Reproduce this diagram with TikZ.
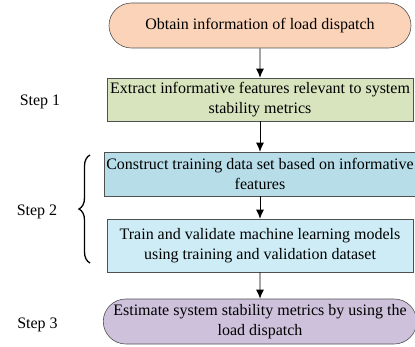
\documentclass[tikz,border=0pt]{standalone}
\usepackage{fontspec}
\setmainfont{Liberation Serif}
\usetikzlibrary{shapes.misc,decorations.pathreplacing,arrows.meta}

\definecolor{peach}{RGB}{250,211,184}
\definecolor{sage}{RGB}{216,228,190}
\definecolor{steel}{RGB}{183,221,232}
\definecolor{skyblue}{RGB}{205,236,246}
\definecolor{lilac}{RGB}{205,193,219}
\definecolor{edge}{RGB}{80,80,80}

\tikzset{
  box/.style={draw=edge, line width=0.6pt, minimum width=306pt, align=center,
    font=\fontsize{16}{20}\selectfont, inner sep=2pt},
  term/.style={box, rounded rectangle},
  steplabel/.style={font=\fontsize{16}{20}\selectfont},
  flow/.style={->, line width=0.9pt, black}
}

\begin{document}
\begin{tikzpicture}[x=1pt, y=1pt, >={Latex[length=9pt,width=8pt]}]
  \useasboundingbox (0,0) rectangle (415,346);
  % Flow boxes
  \node[term, fill=peach, minimum height=45pt] (obtain) at (260,320.5)
    {Obtain information of load dispatch};
  \node[box, fill=sage, minimum height=43pt] (extract) at (260,246.5)
    {Extract informative features relevant to system\\stability metrics};
  \node[box, fill=steel, minimum height=44pt] (construct) at (260,172)
    {Construct training data set based on informative\\features};
  \node[box, fill=skyblue, minimum height=53pt] (train) at (260,100.5)
    {Train and validate machine learning models\\using training and validation dataset};
  \node[term, fill=lilac, minimum height=45pt] (estimate) at (260,24.5)
    {Estimate system stability metrics by using the\\load dispatch};
  % Connectors
  \draw[flow] (obtain) -- (extract);
  \draw[flow] (extract) -- (construct);
  \draw[flow] (construct) -- (train);
  \draw[flow] (train) -- (estimate);
  % Step labels
  \node[steplabel] (step1) at (40,244) {Step 1};
  \node[steplabel] (step2) at (37,134) {Step 2};
  \node[steplabel] (step3) at (37.5,21) {Step 3};
  % Brace for step 2
  \coordinate (bracebot) at (90,83);
  \coordinate (bracetop) at (90,191);
  \draw[line width=1.3pt, decorate, decoration={brace, amplitude=11pt}]
    (bracebot) -- (bracetop);
\end{tikzpicture}
\end{document}
